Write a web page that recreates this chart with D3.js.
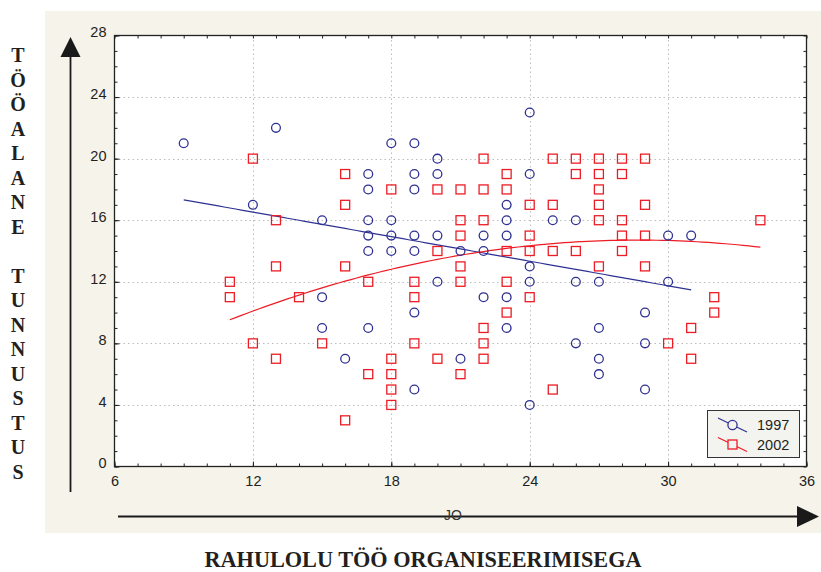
<!DOCTYPE html>
<html><head><meta charset="utf-8">
<script src="https://cdn.jsdelivr.net/npm/d3@7"></script>
<style>html,body{margin:0;padding:0;background:#fff;}svg{display:block;}</style>
</head><body>
<svg id="c" width="821" height="572"></svg>
<script>
// ---- data ----
const series = ["1997", "2002"];
const x1997 = [9,12,13,15,15,15,16,17,17,17,17,17,17,18,18,18,18,19,19,19,19,19,19,19,20,20,20,20,21,21,22,22,22,23,23,23,23,23,24,24,24,24,24,25,26,26,26,27,27,27,27,29,29,29,30,30,31];
const y1997 = [21,17,22,16,11,9,7,19,18,16,15,14,9,21,16,15,14,21,19,18,15,14,10,5,20,19,15,12,14,7,15,14,11,17,16,15,11,9,23,19,13,12,4,16,16,12,8,12,9,7,6,10,8,5,15,12,15];
const x2002 = [11,11,12,12,13,13,13,14,15,16,16,16,16,17,17,18,18,18,18,18,19,19,19,20,20,20,21,21,21,21,21,21,22,22,22,22,22,22,23,23,23,23,23,24,24,24,24,25,25,25,25,26,26,26,27,27,27,27,27,27,28,28,28,28,28,29,29,29,29,30,31,31,32,32,34];
const y2002 = [12,11,20,8,16,13,7,11,8,19,17,13,3,12,6,18,7,6,5,4,12,11,8,18,14,7,18,16,15,13,12,6,20,18,16,9,8,7,19,18,14,12,10,17,15,14,11,20,17,14,5,20,19,14,20,19,18,17,16,13,20,19,16,15,14,20,17,15,13,8,9,7,11,10,16];
// fitted curves: [intercept, linear, quadratic], x-range
const fit1997 = [19.72, -0.266, 0];
const fit2002 = [1.10, 0.948, -0.01651];
const fitRange1997 = [9, 31];
const fitRange2002 = [11, 34];
const xTicks = [6, 12, 18, 24, 30, 36];
const yTicks = [0, 4, 8, 12, 16, 20, 24, 28];
const yTitle = ["T","Ö","Ö","A","L","A","N","E"," ","T","U","N","N","U","S","T","U","S"];
const xTitle = "RAHULOLU TÖÖ ORGANISEERIMISEGA";
const xVarLabel = "JO";

// ---- drawing ----
const svg = d3.select("#c");
const L = 114.5, R = 806.5, T = 35.5, B = 466.5;
const blue = "#2e3192", red = "#ed1c24";
const x = d3.scaleLinear().domain([6, 36]).range([L, R]);
const y = d3.scaleLinear().domain([0, 28]).range([B, T]);

svg.append("rect").attr("x", 45).attr("y", 11).attr("width", 776).attr("height", 522).attr("fill", "#f6f3eb");
svg.append("rect").attr("x", L).attr("y", T).attr("width", R - L).attr("height", B - T).attr("fill", "#fff");

// grid
const grid = svg.append("g").attr("stroke", "#bdbdbd").attr("stroke-width", 1).attr("stroke-dasharray", "1.5,3");
grid.selectAll("line.gx").data(xTicks.slice(1, -1)).join("line")
  .attr("x1", d => Math.round(x(d)) + 0.5).attr("x2", d => Math.round(x(d)) + 0.5).attr("y1", T).attr("y2", B);
grid.selectAll("line.gy").data(yTicks.slice(1, -1)).join("line")
  .attr("y1", d => Math.round(y(d)) + 0.5).attr("y2", d => Math.round(y(d)) + 0.5).attr("x1", L).attr("x2", R);

// axes via d3 axis (minor ticks inside)
const minorX = d3.range(6, 37, 1), minorY = d3.range(0, 29, 1);
function styleAxis(g) {
  g.select(".domain").remove();
  g.selectAll(".tick line").attr("stroke", "#222");
}
svg.append("g").attr("transform", `translate(0,${B})`)
  .call(d3.axisBottom(x).tickValues(minorX).tickSize(-3).tickFormat(""))
  .call(styleAxis);
svg.append("g").attr("transform", `translate(0,${T})`)
  .call(d3.axisTop(x).tickValues(minorX).tickSize(-3).tickFormat(""))
  .call(styleAxis);
svg.append("g").attr("transform", `translate(${L},0)`)
  .call(d3.axisLeft(y).tickValues(minorY).tickSize(-3).tickFormat(""))
  .call(styleAxis);
svg.append("g").attr("transform", `translate(${R},0)`)
  .call(d3.axisRight(y).tickValues(minorY).tickSize(-3).tickFormat(""))
  .call(styleAxis);
// major labels
const xa = svg.append("g").attr("transform", `translate(0,${B})`)
  .call(d3.axisBottom(x).tickValues(xTicks).tickSize(-5).tickPadding(9).tickFormat(d3.format("d")));
xa.select(".domain").remove();
xa.selectAll(".tick line").attr("stroke", "#222");
xa.selectAll("text").attr("font-family", "Liberation Sans, Arial, sans-serif").attr("font-size", 14.5).attr("fill", "#231f20");
const ya = svg.append("g").attr("transform", `translate(${L},0)`)
  .call(d3.axisLeft(y).tickValues(yTicks).tickSize(-5).tickPadding(8).tickFormat(d3.format("d")));
ya.select(".domain").remove();
ya.selectAll(".tick line").attr("stroke", "#222");
ya.selectAll("text").attr("font-family", "Liberation Sans, Arial, sans-serif").attr("font-size", 14.5).attr("fill", "#231f20").attr("dy", "0.1em");

svg.append("rect").attr("x", L).attr("y", T).attr("width", R - L).attr("height", B - T)
  .attr("fill", "none").attr("stroke", "#222").attr("stroke-width", 1.3);

// fit lines
function curve(c, rng) {
  const xs = d3.range(rng[0], rng[1] + 0.001, 0.25);
  return xs.map(v => [x(v), y(c[0] + c[1] * v + c[2] * v * v)]);
}
const line = d3.line();
svg.append("path").attr("d", line(curve(fit1997, fitRange1997))).attr("fill", "none").attr("stroke", blue).attr("stroke-width", 1.2);
svg.append("path").attr("d", line(curve(fit2002, fitRange2002))).attr("fill", "none").attr("stroke", red).attr("stroke-width", 1.2);

// points
const pts1997 = x1997.map((v, i) => [v, y1997[i]]);
const pts2002 = x2002.map((v, i) => [v, y2002[i]]);
const S = 9;
svg.append("g").selectAll("rect").data(pts2002).join("rect")
  .attr("x", d => x(d[0]) - S / 2).attr("y", d => y(d[1]) - S / 2).attr("width", S).attr("height", S)
  .attr("fill", "none").attr("stroke", red).attr("stroke-width", 1.3);
svg.append("g").selectAll("circle").data(pts1997).join("circle")
  .attr("cx", d => x(d[0])).attr("cy", d => y(d[1])).attr("r", 4.4)
  .attr("fill", "none").attr("stroke", blue).attr("stroke-width", 1.3);

// legend
const lg = svg.append("g");
lg.append("rect").attr("x", 707.5).attr("y", 410.5).attr("width", 92).attr("height", 47)
  .attr("fill", "#f3f3ef").attr("stroke", "#333").attr("stroke-width", 1);
const legItems = [{name: series[0], color: blue, shape: "circle"}, {name: series[1], color: red, shape: "square"}];
legItems.forEach((it, i) => {
  const cy = 425 + i * 19.5;
  lg.append("line").attr("x1", 718).attr("y1", cy - 7).attr("x2", 747).attr("y2", cy + 7).attr("stroke", it.color).attr("stroke-width", 1.2);
  if (it.shape === "circle") lg.append("circle").attr("cx", 732.5).attr("cy", cy).attr("r", 4.6).attr("fill", "#f3f3ef").attr("stroke", it.color).attr("stroke-width", 1.3);
  else lg.append("rect").attr("x", 728).attr("y", cy - 4.5).attr("width", 9).attr("height", 9).attr("fill", "#f3f3ef").attr("stroke", it.color).attr("stroke-width", 1.3);
  lg.append("text").attr("x", 757).attr("y", cy + 5).attr("font-family", "Liberation Sans, Arial, sans-serif").attr("font-size", 14.5).attr("fill", "#231f20").text(it.name);
});

// arrows
const ar = svg.append("g").attr("fill", "#1a1a1a").attr("stroke", "#1a1a1a");
ar.append("line").attr("x1", 70.5).attr("x2", 70.5).attr("y1", 492).attr("y2", 55).attr("stroke-width", 1.8);
ar.append("path").attr("d", "M70.5,37 L80.5,57 L60.5,57 Z").attr("stroke", "none");
ar.append("line").attr("x1", 118).attr("x2", 800).attr("y1", 516.5).attr("y2", 516.5).attr("stroke-width", 1.8);
ar.append("path").attr("d", "M819,516.5 L797,506 L797,527 Z").attr("stroke", "none");
svg.append("text").attr("x", 453).attr("y", 520).attr("text-anchor", "middle")
  .attr("font-family", "Liberation Sans, Arial, sans-serif").attr("font-size", 14).attr("fill", "#333").text(xVarLabel);

// titles
svg.append("g").selectAll("text").data(yTitle).join("text")
  .attr("x", 18).attr("y", (d, i) => 62 + i * 24.5).attr("text-anchor", "middle")
  .attr("font-family", "Liberation Serif, Times New Roman, serif").attr("font-weight", "bold").attr("font-size", 20).attr("fill", "#231f20")
  .text(d => d);
svg.append("text").attr("x", 423).attr("y", 567).attr("text-anchor", "middle")
  .attr("font-family", "Liberation Serif, Times New Roman, serif").attr("font-weight", "bold").attr("font-size", 24).attr("fill", "#231f20")
  .attr("textLength", 437).attr("lengthAdjust", "spacingAndGlyphs")
  .text(xTitle);
</script>
</body></html>
